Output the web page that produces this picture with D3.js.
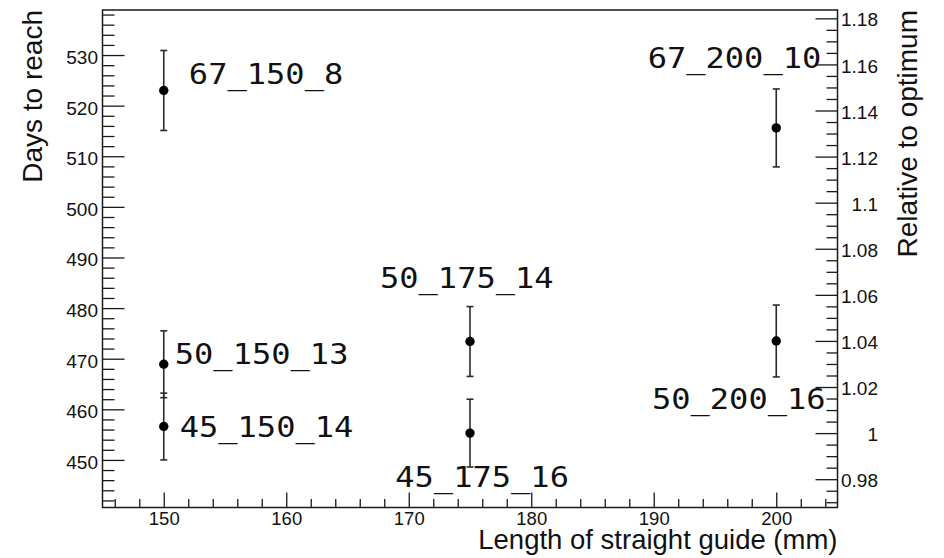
<!DOCTYPE html>
<html>
<head>
<meta charset="utf-8">
<script src="https://cdn.jsdelivr.net/npm/d3@7"></script>
<style>
  html, body { margin: 0; padding: 0; background: #fff; }
  svg { display: block; }
  .tick text { font-family: "Liberation Sans", Arial, sans-serif; fill: #111; }
</style>
</head>
<body>
<svg id="chart" width="944" height="558"></svg>
<script>
// Straight guide length (mm) of each configuration
const guideLength = [150, 150, 150, 175, 175, 200, 200];
// Days to reach target and its uncertainty
const daysToReach = [523.0, 468.9, 456.6, 473.4, 455.3, 515.6, 473.5];
const daysError = [7.9, 6.6, 6.6, 6.9, 6.7, 7.7, 7.1];
// Configuration names
const configNames = ["67_150_8", "50_150_13", "45_150_14", "50_175_14", "45_175_16", "67_200_10", "50_200_16"];
// Label anchors, in data coordinates (length, days)
const labelLength = [152.05, 150.9, 151.3, 167.65, 168.9, 189.5, 189.85];
const labelDays = [524.3, 468.9, 454.6, 484.0, 444.7, 527.4, 460.1];

// Axis ranges and tick values
const xDomain = [145, 205];
const yDomain = [440.6, 538.9];
const xMajor = [150, 160, 170, 180, 190, 200];
const yMajor = [450, 460, 470, 480, 490, 500, 510, 520, 530];
const rMajor = [0.98, 1.0, 1.02, 1.04, 1.06, 1.08, 1.1, 1.12, 1.14, 1.16, 1.18];

const W = 944, H = 558;
const frame = { left: 102.5, right: 837.5, top: 10, bottom: 507.5 };

const svg = d3.select("#chart");

const x = d3.scaleLinear().domain(xDomain).range([frame.left, frame.right]);
const y = d3.scaleLinear().domain(yDomain).range([frame.bottom, frame.top]);

// Right axis: days relative to the best configuration
const optimum = d3.min(daysToReach);
const yRel = d3.scaleLinear()
  .domain(yDomain.map(d => d / optimum))
  .range([frame.bottom, frame.top]);

const minorX = d3.range(146, 205, 2).filter(v => v % 10 !== 0);
const minorY = d3.range(442, 539, 2).filter(v => v % 10 !== 0);
const minorR = d3.range(0, 44).map(i => +(0.97 + i * 0.005).toFixed(3))
  .filter(v => v >= yRel.domain()[0] && v <= yRel.domain()[1])
  .filter(v => Math.round(v * 1000) % 20 !== 0);

const axisColor = "#1a1a1a";

function styleAxis(g) {
  g.select(".domain").remove();
  g.selectAll(".tick line").attr("stroke", axisColor).attr("stroke-width", 1.3);
}

// Bottom axis
svg.append("g")
  .attr("transform", `translate(0,${frame.bottom})`)
  .call(d3.axisBottom(x).tickValues(minorX).tickSize(-8.5).tickFormat(""))
  .call(styleAxis);
svg.append("g")
  .attr("transform", `translate(0,${frame.bottom})`)
  .call(d3.axisBottom(x).tickValues(xMajor).tickSize(-15).tickPadding(4.5).tickFormat(d3.format("d")))
  .call(styleAxis)
  .call(g => g.selectAll(".tick text").attr("font-size", 18.5));

// Left axis
svg.append("g")
  .attr("transform", `translate(${frame.left},0)`)
  .call(d3.axisLeft(y).tickValues(minorY).tickSize(-12).tickFormat(""))
  .call(styleAxis);
svg.append("g")
  .attr("transform", `translate(${frame.left},0)`)
  .call(d3.axisLeft(y).tickValues(yMajor).tickSize(-22).tickPadding(4.5).tickFormat(d3.format("d")))
  .call(styleAxis)
  .call(g => g.selectAll(".tick text").attr("font-size", 19).attr("dy", "0.44em"));

// Right axis
svg.append("g")
  .attr("transform", `translate(${frame.right},0)`)
  .call(d3.axisRight(yRel).tickValues(minorR).tickSize(-11).tickFormat(""))
  .call(styleAxis);
svg.append("g")
  .attr("transform", `translate(${frame.right},0)`)
  .call(d3.axisRight(yRel).tickValues(rMajor).tickSize(-22).tickFormat(d => String(+d.toFixed(2))))
  .call(styleAxis)
  .call(g => g.selectAll(".tick text")
    .attr("font-size", 19).attr("text-anchor", "end").attr("x", 40.5).attr("dy", "0.4em"));

// Frame
svg.append("rect")
  .attr("x", frame.left).attr("y", frame.top)
  .attr("width", frame.right - frame.left).attr("height", frame.bottom - frame.top)
  .attr("fill", "none").attr("stroke", axisColor).attr("stroke-width", 1.5);

// Axis titles
const titleFont = "'Liberation Sans', Arial, sans-serif";
svg.append("text")
  .attr("transform", `translate(42,${frame.top}) rotate(-90)`)
  .attr("text-anchor", "end")
  .attr("font-family", titleFont).attr("font-size", 28).attr("fill", "#111")
  .text("Days to reach");
svg.append("text")
  .attr("transform", `translate(917,${frame.top}) rotate(-90)`)
  .attr("text-anchor", "end")
  .attr("font-family", titleFont).attr("font-size", 28).attr("fill", "#111")
  .text("Relative to optimum");
svg.append("text")
  .attr("x", frame.right).attr("y", 549)
  .attr("text-anchor", "end")
  .attr("font-family", titleFont).attr("font-size", 27.5).attr("fill", "#111")
  .text("Length of straight guide (mm)");

// Error bars
const pts = guideLength.map((g, i) => ({ g, d: daysToReach[i], e: daysError[i], name: configNames[i] }));
const capHalf = 3.5;
const eb = svg.append("g").attr("stroke", "#2a2a2a").attr("stroke-width", 1.6);
eb.selectAll("line.bar").data(pts).join("line")
  .attr("class", "bar")
  .attr("x1", p => x(p.g)).attr("x2", p => x(p.g))
  .attr("y1", p => y(p.d + p.e)).attr("y2", p => y(p.d - p.e));
eb.selectAll("line.capT").data(pts).join("line")
  .attr("class", "capT")
  .attr("x1", p => x(p.g) - capHalf).attr("x2", p => x(p.g) + capHalf)
  .attr("y1", p => y(p.d + p.e)).attr("y2", p => y(p.d + p.e));
eb.selectAll("line.capB").data(pts).join("line")
  .attr("class", "capB")
  .attr("x1", p => x(p.g) - capHalf).attr("x2", p => x(p.g) + capHalf)
  .attr("y1", p => y(p.d - p.e)).attr("y2", p => y(p.d - p.e));

// Markers
svg.append("g").selectAll("circle").data(pts).join("circle")
  .attr("cx", p => x(p.g)).attr("cy", p => y(p.d))
  .attr("r", 4.7).attr("fill", "#000");

// Configuration labels
svg.append("g").selectAll("text").data(configNames).join("text")
  .attr("x", (n, i) => x(labelLength[i]))
  .attr("y", (n, i) => y(labelDays[i]))
  .attr("font-family", "'DejaVu Sans Mono', monospace")
  .attr("font-size", 28).attr("fill", "#111")
  .attr("textLength", n => n.length * 19.3)
  .attr("lengthAdjust", "spacingAndGlyphs")
  .text(n => n);
</script>
</body>
</html>
